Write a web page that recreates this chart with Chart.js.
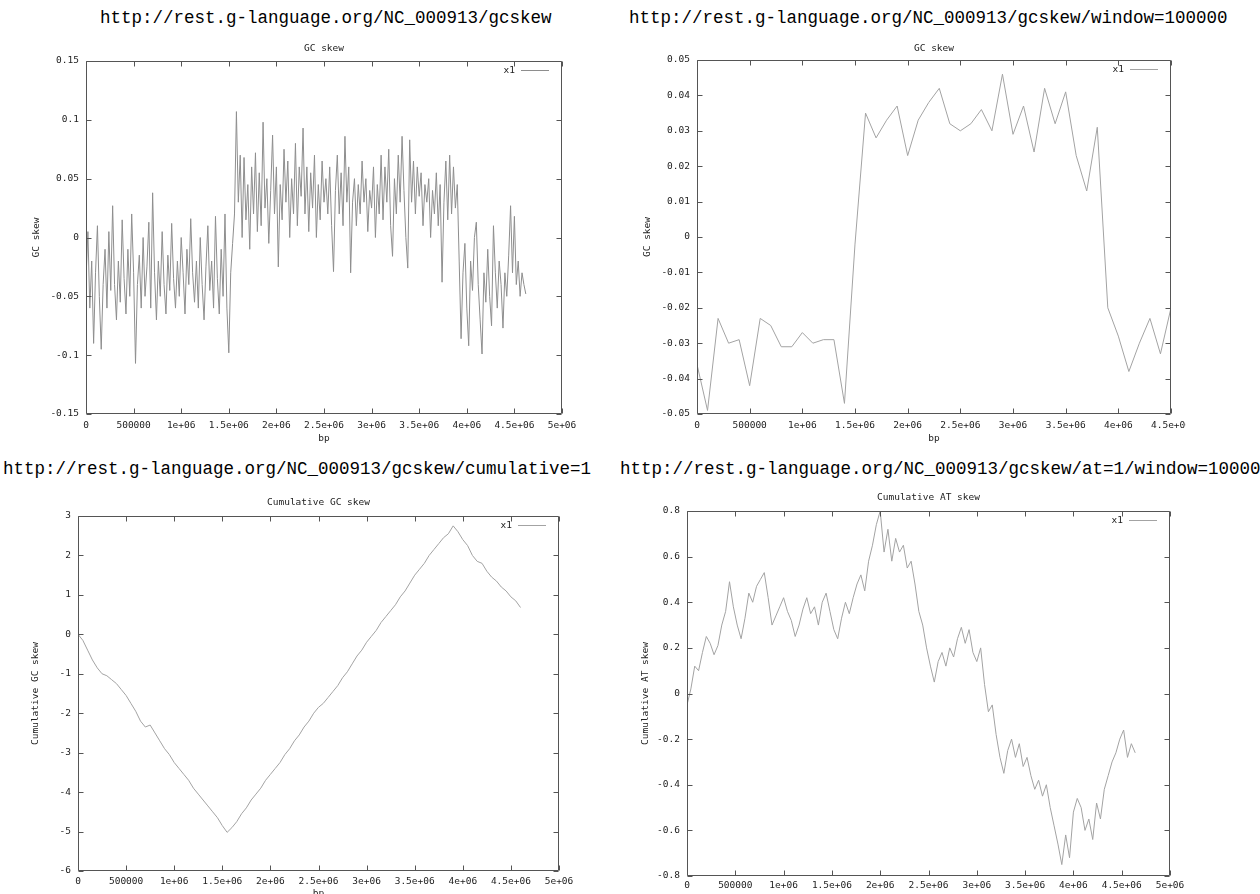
<!DOCTYPE html>
<html>
<head>
<meta charset="utf-8">
<script src="https://cdn.jsdelivr.net/npm/chart.js@4.4.1/dist/chart.umd.min.js"></script>
<style>
html, body { margin: 0; padding: 0; background: #fff; overflow: hidden; }
body { width: 1260px; height: 894px; position: relative; }
.url { position: absolute; font-family: "Liberation Mono", "Courier New", monospace; font-size: 17.5px; line-height: 20px; color: #000; white-space: nowrap; }
.box { position: absolute; }
.clip { position: absolute; overflow: hidden; }
</style>
</head>
<body>
<div class="url" style="left:100px;top:8px">http://rest.g-language.org/NC_000913/gcskew</div>
<div class="url" style="left:629px;top:8px">http://rest.g-language.org/NC_000913/gcskew/window=100000</div>
<div class="url" style="left:3px;top:459px">http://rest.g-language.org/NC_000913/gcskew/cumulative=1</div>
<div class="url" style="left:620px;top:459px">http://rest.g-language.org/NC_000913/gcskew/at=1/window=10000</div>

<div class="box" style="left:26px;top:34px;width:564px;height:420px"><canvas id="gc"></canvas></div>
<div class="clip" style="left:636px;top:34px;width:550px;height:420px">
  <div class="box" style="left:0;top:0;width:570px;height:420px"><canvas id="gcwin"></canvas></div>
</div>
<div class="box" style="left:26px;top:488px;width:561px;height:423px"><canvas id="cumgc"></canvas></div>
<div class="box" style="left:636px;top:483px;width:562px;height:433px"><canvas id="cumat"></canvas></div>

<script>
// axis ticks
const bpTicks = [0, 500000, 1000000, 1500000, 2000000, 2500000, 3000000, 3500000, 4000000, 4500000, 5000000];
const bpTickLabels = ['0', '500000', '1e+06', '1.5e+06', '2e+06', '2.5e+06', '3e+06', '3.5e+06', '4e+06', '4.5e+06', '5e+06'];
const winBpTicks = [0, 500000, 1000000, 1500000, 2000000, 2500000, 3000000, 3500000, 4000000, 4500000];
const winBpTickLabels = ['0', '500000', '1e+06', '1.5e+06', '2e+06', '2.5e+06', '3e+06', '3.5e+06', '4e+06', '4.5e+06'];

const gcTicks = [-0.15, -0.1, -0.05, 0, 0.05, 0.1, 0.15];
const gcTickLabels = ['-0.15', '-0.1', '-0.05', '0', '0.05', '0.1', '0.15'];
const winTicks = [-0.05, -0.04, -0.03, -0.02, -0.01, 0, 0.01, 0.02, 0.03, 0.04, 0.05];
const winTickLabels = ['-0.05', '-0.04', '-0.03', '-0.02', '-0.01', '0', '0.01', '0.02', '0.03', '0.04', '0.05'];
const cumGcTicks = [-6, -5, -4, -3, -2, -1, 0, 1, 2, 3];
const cumGcTickLabels = ['-6', '-5', '-4', '-3', '-2', '-1', '0', '1', '2', '3'];
const cumAtTicks = [-0.8, -0.6, -0.4, -0.2, 0, 0.2, 0.4, 0.6, 0.8];
const cumAtTickLabels = ['-0.8', '-0.6', '-0.4', '-0.2', '0', '0.2', '0.4', '0.6', '0.8'];

// GC skew, one value every 20000 bp
const gcStep = 20000;
const gcSkew = [
  -0.035, 0.005, -0.06, -0.02, -0.09, -0.03, 0.01, -0.05, -0.095, -0.04,
  -0.01, -0.06, 0.005, -0.045, 0.027, -0.04, -0.07, -0.02, -0.055, 0.015,
  -0.035, -0.065, -0.01, -0.05, 0.02, -0.03, -0.107, -0.04, -0.015, -0.06,
  0.0, -0.05, -0.025, 0.013, -0.06, 0.038, -0.03, -0.07, -0.02, -0.05,
  0.005, -0.04, -0.065, -0.015, -0.045, 0.012, -0.035, -0.06, -0.02, -0.05,
  0.0, -0.03, -0.065, -0.01, -0.04, 0.016, -0.03, -0.055, -0.02, -0.06,
  0.0, -0.04, -0.07, -0.025, 0.01, -0.045, -0.02, -0.06, 0.018, -0.035,
  -0.065, -0.01, -0.05, 0.02, -0.06, -0.098, -0.03, -0.005, 0.02, 0.107,
  0.03, 0.07, 0.0, 0.068, 0.015, 0.045, -0.01, 0.06, 0.02, 0.072,
  0.005, 0.055, 0.01, 0.098, 0.025, 0.05, -0.005, 0.04, 0.087, 0.02,
  0.06, -0.025, 0.045, 0.015, 0.075, 0.03, 0.065, 0.0, 0.05, 0.02,
  0.08, 0.01, 0.06, 0.035, 0.093, 0.02, 0.06, 0.005, 0.055, 0.025,
  0.07, 0.0, 0.045, 0.015, 0.065, 0.03, 0.05, 0.02, 0.06, 0.01,
  -0.029, 0.04, 0.07, 0.02, 0.055, 0.01, 0.086, 0.03, 0.06, -0.03,
  0.03, 0.05, 0.01, 0.045, 0.02, 0.065, 0.03, 0.05, 0.005, 0.04,
  0.025, 0.06, 0.0, 0.045, 0.02, 0.07, 0.015, 0.06, 0.03, 0.075,
  0.01, -0.016, 0.05, 0.02, 0.07, 0.03, 0.086, 0.04, 0.0, -0.026,
  0.083, 0.03, 0.065, 0.02, 0.06, 0.035, 0.055, 0.01, 0.045, 0.03,
  0.05, 0.0, 0.04, 0.02, 0.055, 0.01, 0.045, -0.038, 0.03, 0.065,
  0.015, 0.07, 0.02, 0.06, 0.025, 0.045, -0.02, -0.086, -0.03, -0.005,
  -0.06, -0.092, -0.02, -0.045, 0.0, 0.013, -0.04, -0.07, -0.099, -0.03,
  -0.055, -0.01, -0.05, -0.075, 0.01, -0.03, -0.06, -0.02, -0.04, -0.077,
  -0.03, -0.05, -0.015, 0.027, -0.03, 0.018, -0.04, -0.02, -0.05, -0.03,
  -0.04, -0.048
];

// GC skew, window=100000
const winStep = 100000;
const gcSkewWindow = [
  -0.036, -0.049, -0.023, -0.030, -0.029, -0.042, -0.023, -0.025, -0.031, -0.031,
  -0.027, -0.030, -0.029, -0.029, -0.047, -0.002, 0.035, 0.028, 0.033, 0.037,
  0.023, 0.033, 0.038, 0.042, 0.032, 0.030, 0.032, 0.036, 0.030, 0.046,
  0.029, 0.037, 0.024, 0.042, 0.032, 0.041, 0.023, 0.013, 0.031, -0.020,
  -0.028, -0.038, -0.030, -0.023, -0.033, -0.020, -0.012
];

// cumulative GC skew, every 50000 bp
const cumGcStep = 50000;
const cumGcSkew = [
  0.0, -0.15, -0.4, -0.65, -0.85, -1.0, -1.05, -1.15, -1.25, -1.4,
  -1.55, -1.75, -1.95, -2.2, -2.35, -2.3, -2.5, -2.7, -2.9, -3.05,
  -3.25, -3.4, -3.55, -3.7, -3.9, -4.05, -4.2, -4.35, -4.5, -4.65,
  -4.85, -5.02, -4.9, -4.75, -4.55, -4.4, -4.2, -4.05, -3.9, -3.7,
  -3.55, -3.4, -3.25, -3.05, -2.9, -2.7, -2.55, -2.35, -2.2, -2.0,
  -1.85, -1.75, -1.6, -1.45, -1.3, -1.1, -0.95, -0.75, -0.55, -0.4,
  -0.2, -0.05, 0.1, 0.3, 0.45, 0.6, 0.75, 0.95, 1.1, 1.3,
  1.5, 1.65, 1.8, 2.0, 2.15, 2.3, 2.45, 2.55, 2.75, 2.6,
  2.4, 2.25, 2.0, 1.85, 1.8, 1.6, 1.45, 1.35, 1.2, 1.1,
  0.95, 0.85, 0.68
];

// cumulative AT skew, every 40000 bp
const cumAtStep = 40000;
const cumAtSkew = [
  -0.05, 0.02, 0.12, 0.10, 0.18, 0.25, 0.22, 0.17, 0.21, 0.30,
  0.36, 0.49, 0.38, 0.30, 0.24, 0.33, 0.44, 0.40, 0.47, 0.50,
  0.53, 0.42, 0.30, 0.34, 0.38, 0.42, 0.36, 0.32, 0.25, 0.30,
  0.37, 0.42, 0.35, 0.38, 0.30, 0.40, 0.44, 0.36, 0.28, 0.24,
  0.33, 0.40, 0.35, 0.42, 0.48, 0.52, 0.45, 0.58, 0.65, 0.74,
  0.80, 0.62, 0.72, 0.58, 0.68, 0.62, 0.65, 0.55, 0.58, 0.48,
  0.36, 0.30, 0.20, 0.12, 0.05, 0.14, 0.18, 0.12, 0.20, 0.16,
  0.24, 0.29, 0.22, 0.28, 0.18, 0.14, 0.20, 0.04, -0.08, -0.05,
  -0.18, -0.28, -0.35, -0.25, -0.20, -0.28, -0.22, -0.32, -0.28, -0.36,
  -0.42, -0.38, -0.45, -0.40, -0.50, -0.58, -0.66, -0.75, -0.62, -0.72,
  -0.52, -0.46, -0.50, -0.60, -0.55, -0.64, -0.48, -0.55, -0.42, -0.36,
  -0.30, -0.26, -0.20, -0.16, -0.28, -0.22, -0.26
];

const smallFont = { family: 'DejaVu Sans Mono', size: 9.5 };

// gnuplot style box, inward ticks on all sides and the "x1" key
const gnuplotFrame = {
  id: 'gnuplotFrame',
  afterDatasetsDraw(chart) {
    const { ctx, chartArea: a, scales: { x, y } } = chart;
    const L = Math.round(a.left) + 0.5, R = Math.round(a.right) - 0.5;
    const T = Math.round(a.top) + 0.5, B = Math.round(a.bottom) - 0.5;
    ctx.save();
    ctx.strokeStyle = '#555';
    ctx.lineWidth = 1;
    ctx.beginPath();
    ctx.rect(L, T, R - L, B - T);
    x.ticks.forEach(t => {
      const px = Math.round(x.getPixelForValue(t.value)) + 0.5;
      ctx.moveTo(px, B); ctx.lineTo(px, B - 5);
      ctx.moveTo(px, T); ctx.lineTo(px, T + 5);
    });
    y.ticks.forEach(t => {
      const py = Math.round(y.getPixelForValue(t.value)) + 0.5;
      ctx.moveTo(L, py); ctx.lineTo(L + 5, py);
      ctx.moveTo(R, py); ctx.lineTo(R - 5, py);
    });
    ctx.stroke();

    const ds = chart.data.datasets[0];
    const ly = Math.round(a.top + 9) + 0.5;
    ctx.fillStyle = '#222';
    ctx.font = '9.5px "DejaVu Sans Mono"';
    ctx.textAlign = 'right';
    ctx.textBaseline = 'middle';
    ctx.fillText(ds.label, a.right - 47, ly);
    ctx.strokeStyle = ds.borderColor;
    ctx.beginPath();
    ctx.moveTo(a.right - 41, ly);
    ctx.lineTo(a.right - 13, ly);
    ctx.stroke();
    ctx.restore();
  }
};

function skewChart(id, c) {
  const points = c.values.map((v, i) => ({ x: i * c.step, y: v }));
  return new Chart(document.getElementById(id), {
    type: 'line',
    data: {
      datasets: [{
        label: 'x1',
        data: points,
        borderColor: c.color,
        borderWidth: 1,
        pointRadius: 0,
        tension: 0,
        fill: false
      }]
    },
    options: {
      responsive: true,
      maintainAspectRatio: false,
      animation: false,
      layout: { padding: { left: 0, right: c.padRight, top: 0, bottom: 0 } },
      plugins: {
        legend: { display: false },
        tooltip: { enabled: false },
        title: {
          display: true,
          fullSize: false,
          text: c.title,
          color: '#222',
          font: { family: 'DejaVu Sans Mono', size: 9.5, weight: 'normal' },
          padding: { top: 9, bottom: c.titleGap - 2 }
        }
      },
      scales: {
        x: {
          type: 'linear',
          min: c.xTicks[0],
          max: c.xTicks[c.xTicks.length - 1],
          grid: { display: false, drawTicks: false },
          border: { display: false },
          afterBuildTicks: s => { s.ticks = c.xTicks.map(v => ({ value: v })); },
          afterFit: s => { s.height = 40; },
          ticks: {
            autoSkip: false,
            maxRotation: 0,
            padding: c.xPad,
            color: '#222',
            font: smallFont,
            callback: (v, i) => c.xLabels[i]
          },
          title: { display: true, text: 'bp', color: '#222', font: smallFont, padding: { top: 0, bottom: c.bpGap } }
        },
        y: {
          type: 'linear',
          min: c.yTicks[0],
          max: c.yTicks[c.yTicks.length - 1],
          grid: { display: false, drawTicks: false },
          border: { display: false },
          afterBuildTicks: s => { s.ticks = c.yTicks.map(v => ({ value: v })); },
          afterFit: s => { s.width = c.yWidth; },
          ticks: {
            padding: 7,
            color: '#222',
            font: smallFont,
            callback: (v, i) => c.yLabels[i]
          },
          title: { display: true, text: c.yTitle, color: '#222', font: smallFont, padding: { top: c.yTitlePad, bottom: 0 } }
        }
      }
    },
    plugins: [gnuplotFrame]
  });
}

skewChart('gc', {
  values: gcSkew, step: gcStep, color: '#8e8e8e', title: 'GC skew', yTitle: 'GC skew',
  xTicks: bpTicks, xLabels: bpTickLabels, yTicks: gcTicks, yLabels: gcTickLabels,
  padRight: 28, yWidth: 60, yTitlePad: 5, titleGap: 8.6, bpGap: 10, xPad: 6
});
skewChart('gcwin', {
  values: gcSkewWindow, step: winStep, color: '#a3a3a3', title: 'GC skew', yTitle: 'GC skew',
  xTicks: winBpTicks, xLabels: winBpTickLabels, yTicks: winTicks, yLabels: winTickLabels,
  padRight: 35, yWidth: 61, yTitlePad: 6, titleGap: 7.6, bpGap: 10, xPad: 6
});
skewChart('cumgc', {
  values: cumGcSkew, step: cumGcStep, color: '#a3a3a3', title: 'Cumulative GC skew', yTitle: 'Cumulative GC skew',
  xTicks: bpTicks, xLabels: bpTickLabels, yTicks: cumGcTicks, yLabels: cumGcTickLabels,
  padRight: 28, yWidth: 52, yTitlePad: 4, titleGap: 9.6, bpGap: 12, xPad: 5
});
skewChart('cumat', {
  values: cumAtSkew, step: cumAtStep, color: '#a3a3a3', title: 'Cumulative AT skew', yTitle: 'Cumulative AT skew',
  xTicks: bpTicks, xLabels: bpTickLabels, yTicks: cumAtTicks, yLabels: cumAtTickLabels,
  padRight: 28, yWidth: 51, yTitlePad: 4, titleGap: 9.6, bpGap: 12, xPad: 4
});
</script>
</body>
</html>
